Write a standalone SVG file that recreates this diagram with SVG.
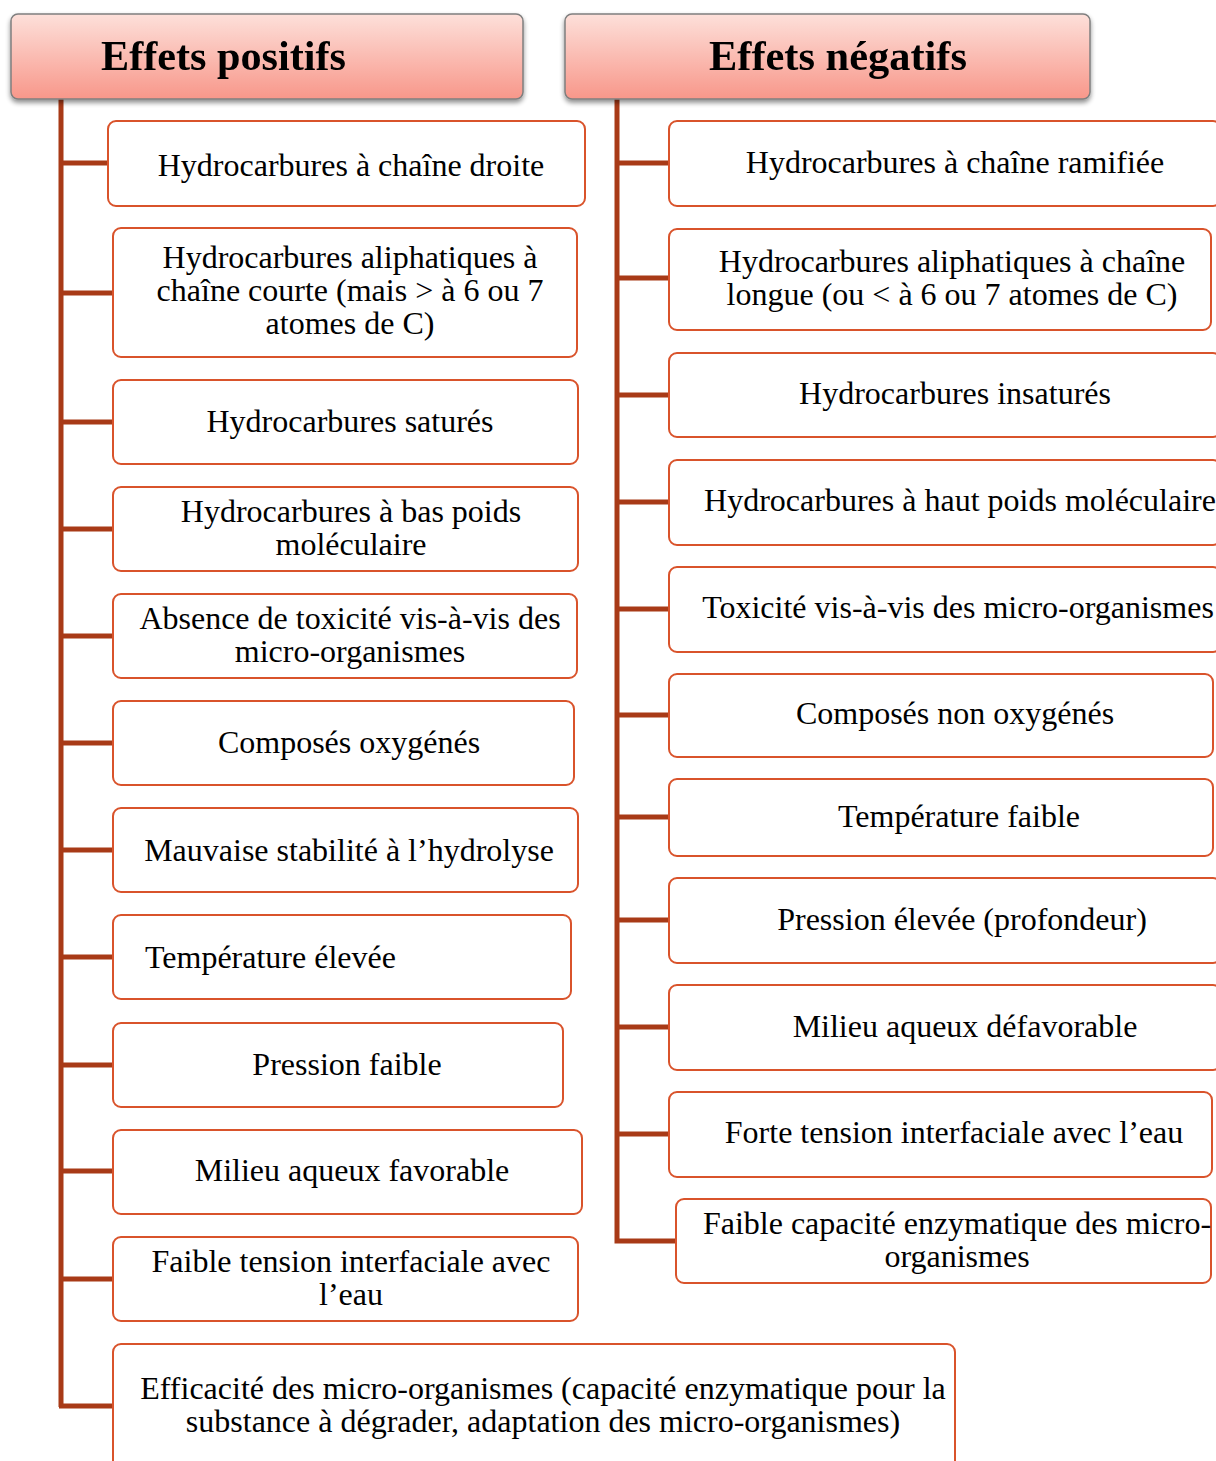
<svg xmlns="http://www.w3.org/2000/svg" width="1216" height="1461" viewBox="0 0 1216 1461">
<defs>
<linearGradient id="hg" x1="0" y1="0" x2="0" y2="1">
<stop offset="0" stop-color="#fde0da"/>
<stop offset="1" stop-color="#f8978a"/>
</linearGradient>
<filter id="sh" x="-5%" y="-10%" width="110%" height="130%">
<feGaussianBlur in="SourceAlpha" stdDeviation="2.5"/>
<feOffset dx="0" dy="3" result="b"/>
<feComponentTransfer><feFuncA type="linear" slope="0.45"/></feComponentTransfer>
<feMerge><feMergeNode/><feMergeNode in="SourceGraphic"/></feMerge>
</filter>
</defs>
<style>
.hdr{fill:url(#hg);stroke:#7f7f7f;stroke-width:1.5}
.ht{font-family:"Liberation Serif","Times New Roman",serif;font-weight:bold;font-size:42px;fill:#000}
.box{fill:#fff;stroke:#d9532b;stroke-width:2}
.t{font-family:"Liberation Serif","Times New Roman",serif;font-size:32px;fill:#000;text-anchor:middle}
.tl{font-family:"Liberation Serif","Times New Roman",serif;font-size:32px;fill:#000}
.c{fill:none;stroke:#a83a17;stroke-width:5}
</style>
<rect width="1216" height="1461" fill="#fff"/>

<g id="connectors">
<path class="c" d="M61,99 V1407"/>
<path class="c" d="M61,163 H108 M61,293 H113 M61,422 H113 M61,529 H113 M61,636 H113 M61,743 H113 M61,850 H113 M61,957 H113 M61,1065 H113 M61,1171 H113 M61,1279 H113 M59,1406 H113"/>
<path class="c" d="M617,99 V1241 H676"/>
<path class="c" d="M617,163 H669 M617,278 H669 M617,395 H669 M617,502 H669 M617,609 H669 M617,715 H669 M617,817 H669 M617,920 H669 M617,1027 H669 M617,1134 H669"/>
</g>

<g id="hdr-pos" filter="url(#sh)">
<rect class="hdr" x="11" y="14" width="512" height="85" rx="7"/>
<text class="ht" x="101" y="70" textLength="245" lengthAdjust="spacingAndGlyphs">Effets positifs</text>
</g>
<g id="hdr-neg" filter="url(#sh)">
<rect class="hdr" x="565" y="14" width="525" height="85" rx="7"/>
<text class="ht" x="709" y="70" textLength="258" lengthAdjust="spacingAndGlyphs">Effets négatifs</text>
</g>

<g id="p1"><rect class="box" x="108" y="121" width="477" height="85" rx="8"/>
<text class="t" x="351" y="176">Hydrocarbures à chaîne droite</text></g>
<g id="p2"><rect class="box" x="113" y="228" width="464" height="129" rx="8"/>
<text class="t" x="350" y="268">Hydrocarbures aliphatiques à</text>
<text class="t" x="350" y="301">chaîne courte (mais &gt; à 6 ou 7</text>
<text class="t" x="350" y="334">atomes de C)</text></g>
<g id="p3"><rect class="box" x="113" y="380" width="465" height="84" rx="8"/>
<text class="t" x="350" y="432">Hydrocarbures saturés</text></g>
<g id="p4"><rect class="box" x="113" y="487" width="465" height="84" rx="8"/>
<text class="t" x="351" y="522">Hydrocarbures à bas poids</text>
<text class="t" x="351" y="555">moléculaire</text></g>
<g id="p5"><rect class="box" x="113" y="594" width="464" height="84" rx="8"/>
<text class="t" x="350" y="629">Absence de toxicité vis-à-vis des</text>
<text class="t" x="350" y="662">micro-organismes</text></g>
<g id="p6"><rect class="box" x="113" y="701" width="461" height="84" rx="8"/>
<text class="t" x="349" y="753">Composés oxygénés</text></g>
<g id="p7"><rect class="box" x="113" y="808" width="465" height="84" rx="8"/>
<text class="t" x="349" y="861">Mauvaise stabilité à l’hydrolyse</text></g>
<g id="p8"><rect class="box" x="113" y="915" width="458" height="84" rx="8"/>
<text class="tl" x="145" y="968">Température élevée</text></g>
<g id="p9"><rect class="box" x="113" y="1023" width="450" height="84" rx="8"/>
<text class="t" x="347" y="1075">Pression faible</text></g>
<g id="p10"><rect class="box" x="113" y="1130" width="469" height="84" rx="8"/>
<text class="t" x="352" y="1181">Milieu aqueux favorable</text></g>
<g id="p11"><rect class="box" x="113" y="1237" width="465" height="84" rx="8"/>
<text class="t" x="351" y="1272">Faible tension interfaciale avec</text>
<text class="t" x="351" y="1305">l’eau</text></g>
<g id="p12"><rect class="box" x="113" y="1344" width="842" height="140" rx="8"/>
<text class="t" x="543" y="1399">Efficacité des micro-organismes (capacité enzymatique pour la</text>
<text class="t" x="543" y="1432">substance à dégrader, adaptation des micro-organismes)</text></g>

<g id="n1"><rect class="box" x="669" y="121" width="552" height="85" rx="8"/>
<text class="t" x="955" y="173">Hydrocarbures à chaîne ramifiée</text></g>
<g id="n2"><rect class="box" x="669" y="229" width="542" height="101" rx="8"/>
<text class="t" x="952" y="272">Hydrocarbures aliphatiques à chaîne</text>
<text class="t" x="952" y="305">longue (ou &lt; à 6 ou 7 atomes de C)</text></g>
<g id="n3"><rect class="box" x="669" y="353" width="552" height="84" rx="8"/>
<text class="t" x="955" y="404">Hydrocarbures insaturés</text></g>
<g id="n4"><rect class="box" x="669" y="460" width="552" height="85" rx="8"/>
<text class="t" x="960" y="511">Hydrocarbures à haut poids moléculaire</text></g>
<g id="n5"><rect class="box" x="669" y="567" width="552" height="85" rx="8"/>
<text class="t" x="958" y="618">Toxicité vis-à-vis des micro-organismes</text></g>
<g id="n6"><rect class="box" x="669" y="674" width="544" height="83" rx="8"/>
<text class="t" x="955" y="724">Composés non oxygénés</text></g>
<g id="n7"><rect class="box" x="669" y="779" width="544" height="77" rx="8"/>
<text class="t" x="959" y="827">Température faible</text></g>
<g id="n8"><rect class="box" x="669" y="878" width="552" height="85" rx="8"/>
<text class="t" x="962" y="930">Pression élevée (profondeur)</text></g>
<g id="n9"><rect class="box" x="669" y="985" width="552" height="85" rx="8"/>
<text class="t" x="965" y="1037">Milieu aqueux défavorable</text></g>
<g id="n10"><rect class="box" x="669" y="1092" width="543" height="85" rx="8"/>
<text class="t" x="954" y="1143">Forte tension interfaciale avec l’eau</text></g>
<g id="n11"><rect class="box" x="676" y="1199" width="535" height="84" rx="8"/>
<text class="t" x="957" y="1234">Faible capacité enzymatique des micro-</text>
<text class="t" x="957" y="1267">organismes</text></g>
</svg>
